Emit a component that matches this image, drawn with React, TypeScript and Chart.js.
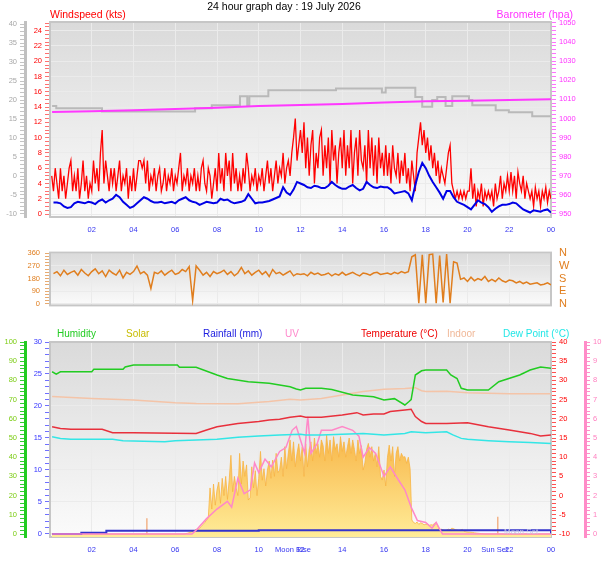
import React, { useEffect, useRef } from "react";
import Chart from "chart.js/auto";

const FONT = "'Liberation Sans', Arial, sans-serif";
const W = 608;
const GRID = "#ebebeb";

// 5 minute samples starting 00:05
const T5_START = 1 / 12;
const T5_STEP = 1 / 12;
// 10 minute samples starting 00:10
const T10_START = 1 / 6;
const T10_STEP = 1 / 6;

// ---- wind (kts), one row per hour ----
const gustKts = [
  5, 3, 6, 4, 2, 6, 3, 5, 2, 4, 6, 7,
  3, 5, 3, 6, 2, 4, 7, 3, 5, 2, 4, 3,
  7, 4, 6, 3, 8, 11, 4, 7, 5, 3, 6, 4,
  6, 3, 5, 7, 3, 5, 4, 6, 2, 5, 3, 6,
  3, 5, 7, 7, 6, 7, 4, 7, 3, 5, 4, 6,
  3, 5, 6, 3, 4, 6, 3, 5, 4, 6, 3, 5,
  4, 6, 8, 3, 5, 4, 6, 3, 5, 4, 6, 3,
  5, 3, 6, 7, 4, 3, 6, 5, 2, 4, 6, 3,
  8, 4, 6, 3, 8, 5, 7, 3, 8, 4, 6, 3,
  5, 3, 6, 4, 8, 6, 3, 5, 4, 6, 3, 5,
  4, 6, 3, 5, 7, 4, 6, 3, 5, 7, 4, 6,
  5, 8, 4, 6, 7, 5, 8, 10, 12.5, 7, 9, 11,
  8, 12, 6, 10, 5, 9, 11, 4, 8, 6, 10, 11,
  5, 9, 6, 10, 4, 11, 7, 9, 4, 8, 10, 6,
  11, 5, 9, 6, 11, 4, 8, 10, 5, 11, 7, 6,
  9, 4, 11, 6, 10, 5, 9, 4, 10, 6, 8, 5,
  9, 5, 8, 4, 9, 6, 5, 8, 4, 7, 5, 8,
  4, 6, 3, 7, 5, 3, 8, 10, 12, 9, 11, 8,
  10, 7, 9, 6, 8, 5, 7, 4, 6, 5, 4, 6,
  8, 9, 4, 3, 2, 3, 2, 3, 2, 3, 2, 3,
  3, 6, 2, 4, 1, 3, 2, 4, 1, 3, 2, 3,
  2, 3, 1, 4, 2, 3, 5, 2, 4, 3, 5, 3,
  5.5, 3, 5, 2, 5.5, 4, 3, 5, 2, 4, 3, 2,
  3, 1, 3.5, 2, 3, 1, 3, 2, 3.5, 1.5, 3, 2,
];
// average wind, 10 minute samples, one row per hour
const avgKts = [
  1.5, 1.5, 1.4, 1.0, 0.8, 0.9,
  1.4, 1.6, 1.5, 1.4, 1.6, 1.5,
  1.3, 1.7, 1.9, 1.5, 1.8, 2.0,
  2.5, 2.2, 1.6, 1.2, 0.8, 1.0,
  1.4, 1.8, 2.2, 2.0, 1.7, 1.5,
  1.5, 1.6, 1.4, 1.5, 1.6, 1.4,
  1.8, 2.0, 2.2, 1.8, 1.6, 1.5,
  1.2, 1.4, 1.6, 1.5, 1.4, 1.5,
  2.0, 1.8, 1.9, 1.6, 1.4, 1.5,
  1.6, 1.8, 2.6, 2.0, 1.4, 1.5,
  1.5, 1.6, 1.7, 1.9, 2.1, 2.3,
  3.5, 2.8, 2.5, 3.2, 4.2, 4.0,
  3.8, 3.5, 3.4, 3.7, 3.6, 3.4,
  3.4, 3.7, 4.2, 3.8, 3.5, 3.3,
  3.3, 3.6, 3.8, 3.4, 3.1, 3.3,
  4.2, 3.8, 3.5, 3.4, 3.6, 3.5,
  3.5, 3.2, 2.7, 2.8, 2.9, 3.0,
  2.7, 1.8, 3.8, 5.5, 6.7, 6.0,
  5.0, 4.2, 3.5, 2.8, 2.0, 3.0,
  3.0, 2.2, 1.6, 1.4, 1.2, 0.9,
  0.6, 1.2, 1.8, 1.5, 1.3, 0.9,
  0.3, 0.7, 1.0, 1.2, 1.2, 1.3,
  1.5, 1.4, 1.0, 0.6, 0.4, 0.2,
  0.5, 0.4, 0.3, 0.5, 0.6, 0.2,
];

// ---- barometer (hPa) ----
const baroHours = [0.1, 2, 4, 6, 8, 10, 12, 14, 16, 18, 20, 22, 24];
const baroHpa = [1003.4, 1003.8, 1004.3, 1004.9, 1005.6, 1006.5, 1007.0, 1007.6, 1008.3, 1009.0, 1009.3, 1009.7, 1010.0];

// ---- grey stepped trace (left grey scale) ----
const greyHours = [0.1, 0.3, 2.49, 6.95, 7.75, 9.1, 9.45, 9.55, 10.46, 13.7, 15.9, 16.08, 17.5, 17.83, 18.31, 18.55, 18.95, 19.27, 20.07, 20.23, 21.35, 21.98, 23.1, 24.05];
const greyValue = [18.4, 17.8, 17.0, 17.8, 18.6, 21.0, 18.6, 21.0, 22.6, 23.0, 22.0, 23.2, 20.8, 18.2, 20.0, 20.8, 18.4, 21.0, 20.0, 18.6, 17.3, 16.8, 15.7, 15.7];

// ---- wind direction (deg), 10 minute samples ----
const windDir = [
  215, 230, 200, 240, 210, 225, 235, 205, 245, 220, 200, 230, 250, 215, 235, 195, 240, 220,
  205, 240, 185, 225, 210, 230, 270, 215, 230, 205, 110, 225, 215, 235, 205, 225, 240, 210,
  220, 245, 230, 265, 25, 270, 240, 205, 225, 195, 230, 215, 225, 240, 210, 230, 200, 220,
  260, 215, 235, 205, 225, 240, 210, 230, 195, 245, 215, 225, 205, 220, 235, 200, 215, 210,
  215, 200, 225, 210, 220, 205, 210, 220, 200, 215, 205, 225, 205, 215, 225, 210, 200, 220,
  215, 205, 220, 225, 210, 215, 220, 210, 225, 215, 230, 220, 230, 335, 350, 5, 350, 5,
  350, 355, 5, 345, 10, 355, 5, 300, 290, 175, 185, 160, 190, 165, 180, 170, 195, 160,
  175, 160, 185, 165, 155, 170, 165, 150, 160, 145, 155, 140, 145, 150, 135, 140, 150, 135,
];
const dirNames: Record<number, string> = { 0: "N", 90: "E", 180: "S", 270: "W", 360: "N" };

// ---- bottom panel ----
const humHours = [0.1, 0.3, 0.5, 2.0, 2.1, 3.5, 3.6, 4.0, 6.1, 6.2, 7.0, 8.0, 8.5, 9.5, 10.5, 11.0, 11.5, 11.8, 12.0, 12.25, 13.0, 13.5, 14.5, 15.5, 16.0, 16.5, 17.0, 17.2, 17.3, 17.5, 17.8, 18.0, 19.0, 19.2, 19.5, 19.7, 20.0, 21.0, 21.5, 22.5, 23.0, 23.5, 24.0];
const humPct = [84.5, 83.3, 84.5, 84.5, 85.8, 85.8, 87, 88, 88, 86.8, 86.8, 82.8, 81, 79.3, 78.5, 77.6, 76.7, 75.5, 75, 75.9, 75.9, 75.3, 72.4, 71.5, 69.8, 70.5, 67.2, 69, 70, 82.8, 85, 85.4, 85.4, 82.8, 81, 75.9, 75, 75, 79.3, 82.8, 85.4, 87, 86.3];

const tempHours = [0.1, 0.5, 1.0, 2.5, 3.0, 4.0, 7.0, 7.5, 8.0, 9.0, 10.0, 10.5, 11.0, 11.5, 12.0, 12.25, 13.0, 14.0, 14.7, 15.0, 15.5, 16.0, 16.3, 17.0, 17.3, 17.5, 17.8, 18.0, 19.0, 20.0, 21.0, 22.0, 23.0, 23.5, 24.0];
const tempC = [17.95, 17.5, 17.3, 17.3, 16.4, 16.4, 16.2, 17.1, 17.95, 18.8, 19.3, 19.7, 19.9, 20.4, 20.7, 20.4, 20.4, 21.0, 21.6, 21.0, 21.25, 21.25, 21.9, 22.3, 22.5, 20.6, 19.3, 18.8, 18.8, 19.0, 17.95, 17.1, 16.2, 15.5, 15.8];

const dewHours = [0.1, 0.5, 1.0, 3.0, 3.5, 5.5, 6.0, 7.0, 8.0, 9.0, 10.0, 11.0, 12.0, 12.25, 13.0, 14.0, 15.0, 16.0, 16.5, 17.0, 17.3, 18.0, 19.0, 19.3, 19.7, 20.0, 21.0, 22.0, 23.0, 24.0];
const dewC = [15.3, 14.9, 14.65, 14.65, 14.3, 14.0, 14.3, 14.5, 14.65, 15.2, 15.5, 15.8, 16.0, 15.8, 15.8, 16.0, 16.2, 15.8, 16.0, 16.2, 16.6, 16.4, 16.6, 15.8, 14.9, 14.65, 14.3, 14.0, 13.8, 13.6];

const indoorHours = [0.1, 2, 4, 6, 7, 9, 10.5, 11.5, 12, 13, 14, 15, 16, 17, 17.5, 17.8, 18, 19, 20, 22, 24];
const indoorC = [25.8, 25.3, 24.9, 24.2, 24.0, 23.9, 24.5, 25.1, 24.9, 25.3, 26.2, 27.1, 27.7, 27.9, 28.1, 27.3, 27.1, 27.2, 26.8, 26.5, 26.5];

const rainHours = [0.1, 1.5, 2.7, 10.0, 24.0];
const rainMm = [0, 0.2, 0.5, 0.6, 0];

const uvHours = [0.1, 6.8, 7.0, 7.5, 8.0, 8.5, 8.7, 9.0, 9.3, 9.6, 9.8, 10.0, 10.3, 10.6, 11.0, 11.3, 11.6, 11.8, 12.0, 12.2, 12.3, 12.35, 12.5, 12.8, 13.0, 13.5, 14.0, 14.5, 14.8, 15.0, 15.3, 15.6, 16.0, 16.3, 16.7, 17.0, 17.3, 17.6, 18.0, 18.3, 18.5, 18.8, 24.0];
const uvIndex = [0, 0, 0.2, 0.8, 1.3, 1.7, 1.4, 2.9, 2.1, 2.3, 3.7, 3.2, 3.9, 3.5, 4.3, 4.5, 5.4, 5.6, 4.9, 4.2, 5.6, 6.1, 4.2, 4.7, 5.4, 5.4, 5.6, 5.4, 5.1, 4.0, 4.5, 4.2, 3.0, 3.5, 2.8, 2.3, 1.4, 0.7, 0.6, 0.3, 0.6, 0, 0];

// solar (W/m2), 5 minute samples, one row per hour
const solarWm2 = [
  0, 0, 0, 0, 0, 0, 0, 0, 0, 0, 0, 0,
  0, 0, 0, 0, 0, 0, 0, 0, 0, 0, 0, 0,
  0, 0, 0, 0, 0, 0, 0, 0, 0, 0, 0, 0,
  0, 0, 0, 0, 0, 0, 0, 0, 0, 0, 0, 0,
  0, 0, 0, 0, 0, 0, 0, 0, 0, 0, 0, 0,
  0, 0, 0, 0, 0, 0, 0, 0, 0, 0, 0, 0,
  0, 0, 0, 0, 0, 2, 4, 7, 10, 14, 18, 24,
  24, 30, 40, 50, 60, 72, 85, 240, 130, 260, 150, 230,
  270, 160, 290, 200, 300, 180, 280, 410, 220, 300, 240, 200,
  420, 260, 380, 300, 360, 177, 190, 350, 240, 330, 200, 290,
  430, 280, 340, 250, 333, 380, 290, 385, 300, 420, 320, 333,
  400, 300, 455, 340, 420, 490, 380, 480, 350, 420, 470, 380,
  455, 300, 470, 350, 440, 480, 380, 500, 420, 470, 400, 490,
  460, 380, 515, 420, 490, 380, 507, 440, 470, 400, 507, 430,
  480, 400, 455, 500, 420, 490, 440, 380, 490, 420, 460, 333,
  370, 440, 472, 400, 455, 380, 420, 350, 455, 300, 281, 333,
  250, 400, 463, 380, 455, 300, 420, 455, 380, 420, 400, 403,
  368, 400, 340, 73, 60, 55, 62, 50, 58, 55, 48, 50,
  52, 45, 48, 47, 55, 59, 40, 21, 25, 21, 18, 20,
  25, 22, 30, 28, 22, 20, 18, 20, 24, 15, 12, 10,
  10, 9, 8, 6, 5, 4, 3, 2, 1, 0, 0, 0,
  0, 0, 0, 0, 0, 0, 0, 0, 0, 0, 0, 0,
  0, 0, 0, 0, 0, 0, 0, 0, 0, 0, 0, 0,
  0, 0, 0, 0, 0, 0, 0, 0, 0, 0, 0, 0,
];

const markHours = [4.64, 21.45];
const markSolar = [82, 90];
const eventNames = ["Moon Rise", "Sun Set"];
const eventHours = [11.64, 21.3];

const series = (values: number[], start: number, step: number) =>
  values.map((v, i) => ({ x: start + i * step, y: v }));
const pairs = (hours: number[], values: number[]) => hours.map((h, i) => ({ x: h, y: values[i] }));

const isOn = (v: number, every: number) => Math.abs(v / every - Math.round(v / every)) < 1e-6;

function axis(o: any) {
  return {
    type: "linear",
    position: o.position,
    min: o.min,
    max: o.max,
    weight: o.weight ?? 0,
    afterFit: (s: any) => {
      s.width = o.width;
    },
    border: { display: !!o.border, color: o.border, width: o.borderWidth ?? 1 },
    grid: {
      drawOnChartArea: !!o.grid,
      drawTicks: o.tickColor !== undefined,
      tickLength: 5,
      tickColor: o.tickColor,
      color: (c: any) => (c.tick && isOn(c.tick.value, o.major) ? GRID : "transparent"),
    },
    ticks: {
      stepSize: o.step,
      autoSkip: false,
      includeBounds: false,
      padding: o.padding ?? 3,
      color: o.color,
      font: { family: FONT, size: o.size ?? 7.5 },
      callback: (v: number) => (isOn(v, o.major) ? (o.fmt ? o.fmt(v) : String(Math.round(v))) : ""),
    },
  };
}

const hourAxis = (height: number, labels: boolean) => ({
  type: "linear",
  min: 0,
  max: 24,
  afterFit: (s: any) => {
    s.height = height;
  },
  border: { display: false },
  grid: { color: GRID, drawTicks: false },
  ticks: {
    display: labels,
    stepSize: 2,
    autoSkip: false,
    maxRotation: 0,
    padding: 8,
    color: "#3535f0",
    font: { family: FONT, size: 7.5 },
    callback: (v: number) => (v === 0 ? "" : String(v % 24).padStart(2, "0")),
  },
});

const backdrop = {
  id: "backdrop",
  beforeDraw(chart: any) {
    const { ctx, chartArea: a } = chart;
    const g = ctx.createLinearGradient(0, a.top, 0, a.bottom);
    g.addColorStop(0, "#dadada");
    g.addColorStop(1, "#fbfbfb");
    ctx.save();
    ctx.fillStyle = g;
    ctx.fillRect(a.left, a.top, a.right - a.left, a.bottom - a.top);
    ctx.restore();
  },
  beforeDatasetsDraw(chart: any) {
    const { ctx, chartArea: a } = chart;
    ctx.save();
    ctx.strokeStyle = "#c6c6c6";
    ctx.lineWidth = 2;
    ctx.strokeRect(a.left, a.top, a.right - a.left, a.bottom - a.top);
    ctx.restore();
  },
};

type Label = { text: string; x: number; y: number; color: string; size?: number; align?: CanvasTextAlign };
const texts = (items: Label[]) => ({
  id: "texts",
  afterDraw(chart: any) {
    const { ctx } = chart;
    ctx.save();
    ctx.textBaseline = "alphabetic";
    items.forEach((t) => {
      ctx.font = `${t.size ?? 10.5}px ${FONT}`;
      ctx.fillStyle = t.color;
      ctx.textAlign = t.align ?? "left";
      ctx.fillText(t.text, t.x, t.y);
    });
    ctx.restore();
  },
});

const eventText = {
  id: "eventText",
  afterDraw(chart: any) {
    const { ctx, chartArea } = chart;
    const x = chart.scales.x;
    ctx.save();
    ctx.font = `7.5px ${FONT}`;
    ctx.fillStyle = "#3535f0";
    ctx.textAlign = "center";
    eventNames.forEach((n, i) => ctx.fillText(n, x.getPixelForValue(eventHours[i]), chartArea.bottom + 15));
    ctx.restore();
  },
};

const line = (data: any[], color: string, axisId: string, order: number, width = 1.5, extra: any = {}) => ({
  type: "line",
  data,
  borderColor: color,
  borderWidth: width,
  pointRadius: 0,
  tension: 0,
  yAxisID: axisId,
  order,
  ...extra,
});

const base = (padTop: number) => ({
  responsive: false,
  animation: false,
  events: [],
  layout: { padding: { top: padTop, left: 0, right: 0, bottom: 0 } },
  plugins: { legend: { display: false }, tooltip: { enabled: false } },
});

const windConfig = () => ({
  type: "line",
  data: {
    datasets: [
      line(series(avgKts, T10_START, T10_STEP), "#0000e6", "y", 0, 2),
      line(series(gustKts, T5_START, T5_STEP), "#ff0000", "y", 1, 1.3),
      line(pairs(baroHours, baroHpa), "#ff38ff", "yBaro", 2, 2),
      line(pairs(greyHours, greyValue), "#b9b9b9", "yGrey", 3, 2, { stepped: true }),
    ],
  },
  options: {
    ...base(22),
    scales: {
      x: hourAxis(21, true),
      yGrey: axis({ position: "left", weight: 10, width: 25, min: -10.79, max: 40.53, step: 1, major: 5, color: "#a8a8a8", tickColor: "#c4c4c4", border: "#c0c0c0", borderWidth: 3 }),
      y: axis({ position: "left", weight: 0, width: 25, min: -0.39, max: 25.14, step: 0.5, major: 2, color: "#ff0000", tickColor: "#ff7070", grid: true }),
      yBaro: axis({ position: "right", width: 57, min: 948.4, max: 1050.5, step: 2, major: 10, color: "#ff33ff", tickColor: "#ff70ff" }),
    },
  },
  plugins: [
    backdrop,
    texts([
      { text: "24 hour graph day : 19 July 2026", x: 284, y: 10, color: "#000000", align: "center" },
      { text: "Windspeed (kts)", x: 50, y: 18, color: "#ff0000" },
      { text: "Barometer (hpa)", x: 573, y: 18, color: "#ff33ff", align: "right" },
    ]),
  ],
});

const dirConfig = () => ({
  type: "line",
  data: { datasets: [line(series(windDir, T10_START, T10_STEP), "#e07e1e", "y", 0, 1.5)] },
  options: {
    ...base(5),
    scales: {
      x: hourAxis(5, false),
      y: axis({ position: "left", width: 50, min: -10.4, max: 365.2, step: 22.5, major: 90, color: "#e07e1e", tickColor: "#e8aa70", grid: true, padding: 5 }),
      yName: axis({ position: "right", width: 57, min: -10.4, max: 365.2, step: 90, major: 90, color: "#e07e1e", padding: 8, size: 11, fmt: (v: number) => dirNames[Math.round(v)] ?? "" }),
    },
  },
  plugins: [backdrop],
});

const climateConfig = () => ({
  type: "line",
  data: {
    datasets: [
      line(pairs(humHours, humPct), "#22cc22", "yHum", 0, 1.5),
      line(pairs(tempHours, tempC), "#e8303c", "yTemp", 1, 1.5),
      line(pairs(dewHours, dewC), "#33e6e6", "yTemp", 2, 1.5),
      line(pairs(indoorHours, indoorC), "#f4c4a8", "yTemp", 3, 1.5),
      line(pairs(uvHours, uvIndex), "#ff88c8", "yUV", 4, 1.5),
      line(pairs(rainHours, rainMm), "#3333cc", "yRain", 5, 2, { stepped: true }),
      line(
        markHours.flatMap((h, i) => [{ x: h, y: 0 }, { x: h, y: markSolar[i] }, { x: h + 0.01, y: null }]),
        "#f2b48a",
        "ySolar",
        6,
        1.5,
        { spanGaps: false },
      ),
      line(series(solarWm2, T5_START, T5_STEP), "#f7b444", "ySolar", 7, 0.8, {
        fill: "start",
        backgroundColor: (c: any) => {
          const a = c.chart.chartArea;
          if (!a) return "#fbd46b";
          const g = c.chart.ctx.createLinearGradient(0, a.top + (a.bottom - a.top) * 0.42, 0, a.bottom);
          g.addColorStop(0, "#f7b040");
          g.addColorStop(1, "#ffec98");
          return g;
        },
      }),
    ],
  },
  options: {
    ...base(22),
    scales: {
      x: hourAxis(24, true),
      yHum: axis({ position: "left", weight: 10, width: 25, min: -1.56, max: 100, step: 2, major: 10, color: "#7ccc14", tickColor: "#33cc33", border: "#22cc22", borderWidth: 3 }),
      yRain: axis({ position: "left", weight: 0, width: 25, min: -0.47, max: 30, step: 1, major: 5, color: "#3333ff", tickColor: "#7070ff", grid: true }),
      yTemp: axis({ position: "right", weight: 0, width: 34, min: -10.78, max: 40, step: 1, major: 5, color: "#ff0000", tickColor: "#ff5050" }),
      yUV: axis({ position: "right", weight: 10, width: 23, min: -0.156, max: 10, step: 0.2, major: 1, color: "#ff80c0", tickColor: "#ff90c8", border: "#ff8cc8", borderWidth: 3 }),
      ySolar: { type: "linear", display: false, min: -15.6, max: 1000 },
    },
  },
  plugins: [
    backdrop,
    eventText,
    texts([
      { text: "Humidity", x: 57, y: 17, color: "#22cc22", size: 10 },
      { text: "Solar", x: 126, y: 17, color: "#c8bc00", size: 10 },
      { text: "Rainfall (mm)", x: 203, y: 17, color: "#2020e0", size: 10 },
      { text: "UV", x: 285, y: 17, color: "#ff88cc", size: 10 },
      { text: "Temperature (°C)", x: 361, y: 17, color: "#ee0000", size: 10 },
      { text: "Indoor", x: 447, y: 17, color: "#f0b898", size: 10 },
      { text: "Dew Point (°C)", x: 503, y: 17, color: "#22e6e6", size: 10 },
      { text: "Moon Set", x: 504, y: 214, color: "#c8c8e0", size: 8 },
    ]),
  ],
});

const Panel = ({ top, height, build }: { top: number; height: number; build: () => any }) => {
  const ref = useRef<HTMLCanvasElement>(null);
  useEffect(() => {
    const chart = new Chart(ref.current as HTMLCanvasElement, build());
    return () => chart.destroy();
  }, []);
  return (
    <canvas
      ref={ref}
      width={W}
      height={height}
      style={{ position: "absolute", left: 0, top, width: W, height, display: "block" }}
    />
  );
};

export default function App() {
  return (
    <div style={{ position: "fixed", left: 0, top: 0, width: W, height: 561, background: "#ffffff" }}>
      <Panel top={0} height={238} build={windConfig} />
      <Panel top={238} height={82} build={dirConfig} />
      <Panel top={320} height={241} build={climateConfig} />
    </div>
  );
}
